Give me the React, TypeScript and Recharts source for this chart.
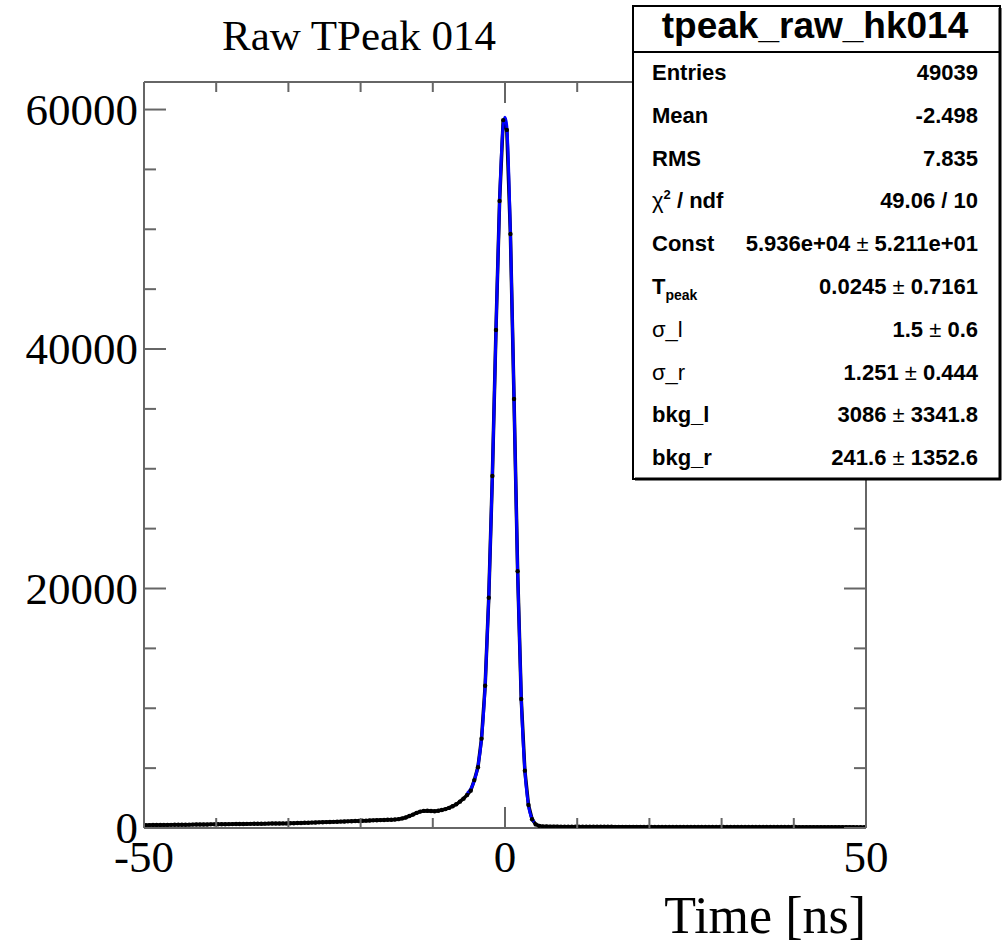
import React from 'react';
import { ComposedChart, Line, XAxis, YAxis } from 'recharts';

// histogram: 200 bins of 0.5 ns between -50 and 50, counts
const BIN_LOW = -50;
const BIN_WIDTH = 0.5;
const counts = [
  // -49.75 .. -40.25
  240, 244, 245, 251, 253, 258, 259, 264, 266, 271, 272, 277, 280, 284, 288, 290, 295, 298, 303, 306,
  // -39.75 .. -30.25
  310, 313, 319, 321, 327, 330, 335, 337, 343, 346, 351, 353, 359, 362, 367, 370, 375, 377, 383, 386,
  // -29.75 .. -20.25
  392, 401, 413, 421, 433, 441, 453, 461, 473, 481, 493, 501, 513, 521, 533, 541, 555, 565, 579, 589,
  // -19.75 .. -15.25
  600, 613, 623, 637, 647, 661, 671, 685, 695, 709,
  // -14.75 .. -0.25
  740, 800, 880, 1000, 1120, 1260, 1370, 1430, 1440, 1420, 1400, 1440, 1500, 1580, 1680, 1820, 1980,
  2200, 2450, 2760, 3120, 4000, 5070, 7460, 11880, 19230, 29400, 41590, 52360, 59120,
  // 0.25 .. 5.25
  58300, 49600, 35830, 21440, 10770, 4790, 1920, 730, 300, 170, 130,
  // 5.75 .. 49.75
  120, 118, 116, 115, 113, 112, 110, 109, 108, 107, 106, 105, 104, 103, 102, 101, 100, 100, 99, 98,
  98, 97, 96, 96, 95, 95, 94, 93, 93, 92, 92, 91, 91, 90, 90, 89, 89, 88, 88, 88,
  87, 87, 86, 86, 86, 85, 85, 84, 84, 84, 83, 83, 83, 82, 82, 82, 81, 81, 81, 80,
  80, 80, 80, 79, 79, 79, 78, 78, 78, 78, 77, 77, 77, 77, 76, 76, 76, 76, 75, 75,
  75, 75, 74, 74, 74, 74, 73, 73, 73,
];

// fitted curve (blue)
const fitTime = [-5.25, -4.75, -4.25, -3.75, -3.25, -2.75, -2.25, -1.75, -1.25, -0.75, -0.25, 0, 0.25, 0.75, 1.25, 1.75, 2.25, 2.75, 3.25, 3.75, 4.05];
const fitValue = [2900, 3250, 3950, 5150, 7450, 11850, 19200, 29400, 41500, 52300, 58700, 59360, 58600, 49700, 35800, 21400, 10800, 4800, 1900, 750, 520];

const xTicks = [-50, -40, -30, -20, -10, 0, 10, 20, 30, 40, 50];
const xLabels = [-50, 0, 50];
const yTicks = [0, 5000, 10000, 15000, 20000, 25000, 30000, 35000, 40000, 45000, 50000, 55000, 60000];
const yLabels = [0, 20000, 40000, 60000];

const statLabels = ['Entries', 'Mean', 'RMS', 'chi2', 'Const', 'Tpeak', 'σ_l', 'σ_r', 'bkg_l', 'bkg_r'];
const statValues = ['49039', '-2.498', '7.835', '49.06 / 10', '5.936e+04 ± 5.211e+01', '0.0245 ± 0.7161', '1.5 ± 0.6', '1.251 ± 0.444', '3086 ± 3341.8', '241.6 ± 1352.6'];

const histData = counts.map((c, i) => ({ t: BIN_LOW + BIN_WIDTH * (i + 0.5), n: c }));
const fitData = fitTime.map((t, i) => ({ t, f: fitValue[i] }));

const FRAME = '#666';
const SERIF = '"Liberation Serif", "Times New Roman", serif';
const SANS = '"Liberation Sans", Arial, sans-serif';

const BottomTick = (props: any) => {
  const { x, y, payload } = props;
  const v = payload.value;
  const len = v % 50 === 0 ? 21 : 10;
  return (
    <g>
      <line x1={x} y1={y} x2={x} y2={y - len} stroke={FRAME} strokeWidth={2} />
      {xLabels.includes(v) && (
        <text x={x} y={y + 44} textAnchor="middle" fontFamily={SERIF} fontSize={45} fill="#000">
          {v}
        </text>
      )}
    </g>
  );
};

const TopTick = (props: any) => {
  const { x, y, payload } = props;
  const len = payload.value % 50 === 0 ? 21 : 10;
  return <line x1={x} y1={y} x2={x} y2={y + len} stroke={FRAME} strokeWidth={2} />;
};

const LeftTick = (props: any) => {
  const { x, y, payload } = props;
  const v = payload.value;
  const len = v % 20000 === 0 ? 22 : 12;
  return (
    <g>
      <line x1={x} y1={y} x2={x + len} y2={y} stroke={FRAME} strokeWidth={2} />
      {yLabels.includes(v) && (
        <text x={x - 6} y={y} textAnchor="end" dominantBaseline="central" fontFamily={SERIF} fontSize={45} fill="#000">
          {v}
        </text>
      )}
    </g>
  );
};

const RightTick = (props: any) => {
  const { x, y, payload } = props;
  const len = payload.value % 20000 === 0 ? 22 : 12;
  return <line x1={x} y1={y} x2={x - len} y2={y} stroke={FRAME} strokeWidth={2} />;
};

const renderStatLabel = (label: string) => {
  if (label === 'chi2') {
    return (
      <>
        <tspan fontWeight="normal">χ</tspan>
        <tspan fontSize={13} dy={-9}>2</tspan>
        <tspan dy={9}> / ndf</tspan>
      </>
    );
  }
  if (label === 'Tpeak') {
    return (
      <>
        T<tspan fontSize={14} dy={6}>peak</tspan>
      </>
    );
  }
  if (label.startsWith('σ')) {
    return <tspan fontWeight="normal">{label}</tspan>;
  }
  return label;
};

const renderStatValue = (value: string) => {
  const parts = value.split(' ± ');
  if (parts.length === 1) return value;
  return (
    <>
      {parts[0]}
      <tspan fontWeight="normal"> ± </tspan>
      {parts[1]}
    </>
  );
};

const StatsBox = () => {
  const x0 = 633;
  const y0 = 6;
  const w = 367;
  const h = 473;
  return (
    <g>
      <rect x={x0} y={y0} width={w} height={h} fill="#fff" stroke="#000" strokeWidth={2} />
      <line x1={x0 + w} y1={y0 + 2} x2={x0 + w} y2={y0 + h + 1} stroke="#000" strokeWidth={3} />
      <line x1={x0 + 2} y1={y0 + h} x2={x0 + w + 1} y2={y0 + h} stroke="#000" strokeWidth={3} />
      <line x1={x0} y1={52} x2={x0 + w} y2={52} stroke="#000" strokeWidth={2} />
      <text x={815} y={38} textAnchor="middle" fontFamily={SANS} fontWeight="bold" fontSize={37} fill="#000">
        tpeak_raw_hk014
      </text>
      {statLabels.map((label, i) => {
        const yy = 80 + i * 42.8;
        return (
          <g key={label}>
            <text x={652} y={yy} fontFamily={SANS} fontWeight="bold" fontSize={22} fill="#000">
              {renderStatLabel(label)}
            </text>
            <text x={978} y={yy} textAnchor="end" fontFamily={SANS} fontWeight="bold" fontSize={22} fill="#000">
              {renderStatValue(statValues[i])}
            </text>
          </g>
        );
      })}
    </g>
  );
};

export default function App() {
  return (
    <div style={{ position: 'absolute', left: 0, top: 0, width: 1002, height: 945, background: '#fff' }}>
      <ComposedChart width={1002} height={945} data={histData} margin={{ top: 0, right: 0, bottom: 0, left: 0 }}>
        <XAxis
          xAxisId="b"
          dataKey="t"
          type="number"
          domain={[-50, 50]}
          ticks={xTicks}
          interval={0}
          height={117}
          tickSize={0}
          tickMargin={0}
          tickLine={false}
          axisLine={{ stroke: FRAME, strokeWidth: 2 }}
          tick={<BottomTick />}
          allowDataOverflow
        />
        <XAxis
          xAxisId="t"
          orientation="top"
          dataKey="t"
          type="number"
          domain={[-50, 50]}
          ticks={xTicks}
          interval={0}
          height={82}
          tickSize={0}
          tickMargin={0}
          tickLine={false}
          axisLine={{ stroke: FRAME, strokeWidth: 2 }}
          tick={<TopTick />}
          allowDataOverflow
        />
        <YAxis
          yAxisId="l"
          type="number"
          domain={[0, 62300]}
          ticks={yTicks}
          interval={0}
          width={144}
          tickSize={0}
          tickMargin={0}
          tickLine={false}
          axisLine={{ stroke: FRAME, strokeWidth: 2 }}
          tick={<LeftTick />}
          allowDataOverflow
        />
        <YAxis
          yAxisId="r"
          orientation="right"
          type="number"
          domain={[0, 62300]}
          ticks={yTicks}
          interval={0}
          width={136}
          tickSize={0}
          tickMargin={0}
          tickLine={false}
          axisLine={{ stroke: FRAME, strokeWidth: 2 }}
          tick={<RightTick />}
          allowDataOverflow
        />
        <Line
          xAxisId="b"
          yAxisId="l"
          dataKey="n"
          type="linear"
          stroke="#000"
          strokeWidth={3.5}
          dot={false}
          activeDot={false}
          isAnimationActive={false}
        />
        <Line
          xAxisId="b"
          yAxisId="l"
          data={fitData}
          dataKey="f"
          type="monotone"
          stroke="#0000ff"
          strokeWidth={3}
          dot={false}
          activeDot={false}
          isAnimationActive={false}
        />
        <Line
          xAxisId="b"
          yAxisId="l"
          dataKey="n"
          type="linear"
          stroke="none"
          strokeWidth={0}
          dot={{ r: 2.2, fill: '#000', stroke: 'none' }}
          activeDot={false}
          isAnimationActive={false}
        />
      </ComposedChart>
      <svg width={1002} height={945} style={{ position: 'absolute', left: 0, top: 0, pointerEvents: 'none' }}>
        <text x={222} y={50} fontFamily={SERIF} fontSize={43} fill="#000">
          Raw TPeak 014
        </text>
        <text x={866} y={933} textAnchor="end" fontFamily={SERIF} fontSize={52} fill="#000">
          Time [ns]
        </text>
        <StatsBox />
      </svg>
    </div>
  );
}
